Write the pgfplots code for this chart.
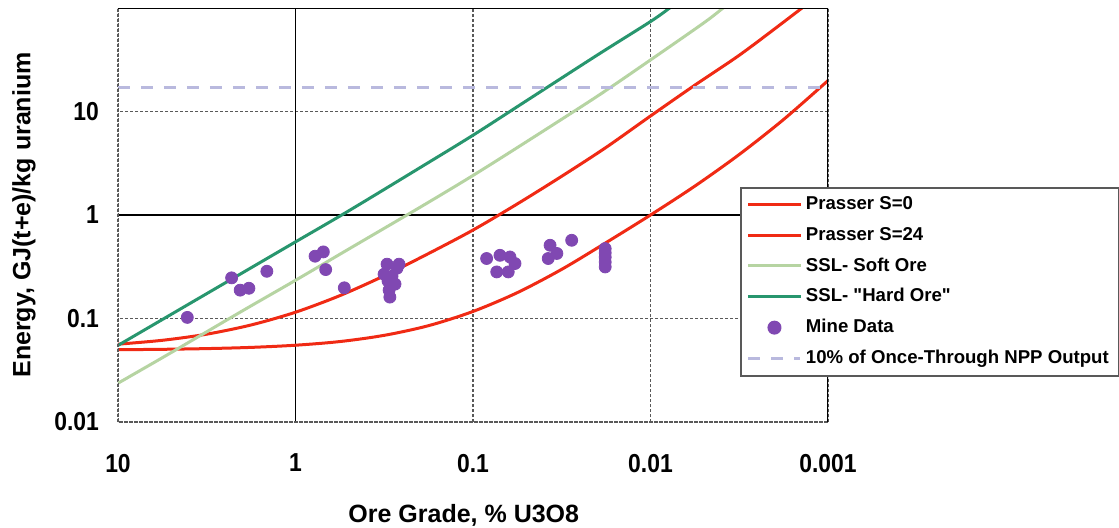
\documentclass[border=0pt]{standalone}
\usepackage{fontspec}
\setmainfont{Liberation Sans}
\newfontfamily\tickfont[FakeStretch=0.88]{Liberation Sans}
\newfontfamily\legfont{Liberation Sans}
\usepackage{pgfplots}
\pgfplotsset{compat=1.18}
\definecolor{cred}{RGB}{240,42,20}
\definecolor{cdgreen}{RGB}{40,150,110}
\definecolor{clgreen}{RGB}{182,212,162}
\definecolor{cpurple}{RGB}{128,72,178}
\definecolor{cdash}{RGB}{185,185,222}
\begin{document}
\begin{tikzpicture}
\useasboundingbox (-59pt,-52.5pt) rectangle (500.5pt,211pt);
\begin{axis}[
 scale only axis, width=355pt, height=207pt,
 xmode=log, ymode=log, x dir=reverse,
 xmin=0.001, xmax=10, ymin=0.01, ymax=100,
 xtick={0.001,0.01,0.1,1,10}, xticklabels={0.001,0.01,0.1,1,10},
 ytick={0.01,0.1,1,10}, yticklabels={0.01,0.1,1,10},
 xminorticks=false, yminorticks=false,
 major tick length=0pt,
 grid=major,
 major grid style={black!65, line width=0.8pt, dash pattern=on 1.5pt off 1pt},
 axis line style={draw=none},
 extra x ticks={1}, extra x tick labels={},
 extra x tick style={major grid style={draw=black, solid, line width=0.8pt}},
 extra y ticks={1}, extra y tick labels={},
 extra y tick style={major grid style={draw=black, solid, line width=0.8pt}},
 ticklabel style={font=\tickfont\bfseries\fontsize{13}{15}\selectfont},
 yticklabel style={anchor=east, xshift=-6pt},
 xticklabel style={anchor=north, yshift=-12.5pt},
 xlabel={Ore Grade, \% U3O8},
 ylabel={Energy, GJ(t+e)/kg uranium},
 label style={font=\bfseries\fontsize{12.5}{14}\selectfont},
 xlabel style={at={(axis description cs:0.487,-0.225)}, anchor=center},
 ylabel style={at={(axis description cs:-0.1324,0.5)}, anchor=center},
 legend style={at={(rel axis cs:0.876,0.568)}, anchor=north west, draw=black!65, line width=1pt, fill=white, font=\legfont\bfseries\fontsize{9.3}{11}\selectfont, row sep=3.2pt, inner xsep=3pt, inner ysep=2.5pt, nodes={inner xsep=2pt}, cells={anchor=west}},
 legend image code/.code={\draw[mark repeat=2,mark phase=2,#1] plot coordinates {(0pt,0pt) (13pt,0pt) (26pt,0pt)};},
]
\addplot[cred, line width=1.5pt, smooth] coordinates {
(10,0.04995) (5.62,0.0504) (3.16,0.0512) (1.78,0.0526) (1,0.0552) (0.562,0.0599) (0.316,0.0688) (0.178,0.0853) (0.1,0.117) (0.0562,0.178) (0.0316,0.299) (0.0178,0.541) (0.01,1.0) (0.00562,1.905) (0.00316,3.85) (0.00178,8.37) (0.001,19.9)};
\addlegendentry{Prasser S=0}
\addplot[cred, line width=1.5pt, smooth] coordinates {
(10,0.0565) (5.62,0.0616) (3.16,0.0706) (1.78,0.0866) (1,0.115) (0.562,0.1665) (0.316,0.259) (0.178,0.4245) (0.1,0.7155) (0.0562,1.282) (0.0316,2.371) (0.0178,4.50) (0.01,9.05) (0.00562,18.0) (0.00316,35.0) (0.00178,73.1) (0.001,156)};
\addlegendentry{Prasser S=24}
\addplot[clgreen, line width=1.5pt, smooth] coordinates {
(10,0.0237) (5,0.047) (2,0.118) (1,0.234) (0.5,0.47) (0.2,1.18) (0.1,2.41) (0.05,5.1) (0.02,14) (0.01,31.5) (0.005,72) (0.0039,100) (0.0035,115)};
\addlegendentry{SSL- Soft Ore}
\addplot[cdgreen, line width=1.5pt, smooth] coordinates {
(10,0.055) (5,0.11) (2,0.275) (1,0.55) (0.5,1.1) (0.2,2.85) (0.1,5.9) (0.05,12.7) (0.02,35) (0.01,74) (0.0078,100) (0.007,115)};
\addlegendentry{SSL- "Hard Ore"}
\addplot[only marks, mark=*, mark size=3pt, mark options={fill=cpurple, draw=cpurple}] coordinates {
(4.07,0.1025) (2.29,0.247) (2.05,0.188) (1.83,0.196) (1.45,0.286)
(0.776,0.40) (0.697,0.44) (0.676,0.297) (0.531,0.198)
(0.305,0.335) (0.268,0.306) (0.317,0.268) (0.286,0.256) (0.301,0.23) (0.275,0.215) (0.297,0.188) (0.294,0.161) (0.261,0.335)
(0.0838,0.38) (0.0705,0.408) (0.0619,0.393) (0.058,0.34) (0.0735,0.282) (0.0633,0.282)
(0.0368,0.51) (0.0337,0.425) (0.0377,0.38) (0.0278,0.57)
(0.018,0.474) (0.018,0.43) (0.018,0.391) (0.018,0.35) (0.018,0.315)};
\addlegendentry{Mine Data}
\addplot[cdash, line width=1.5pt, dash pattern=on 6pt off 5.5pt] coordinates {(10,17) (0.001,17)};
\addlegendentry{10\% of Once-Through NPP Output}
\draw[black!65, line width=0.8pt, dash pattern=on 1.5pt off 1pt] (rel axis cs:0,1) -- (rel axis cs:0,0) -- (rel axis cs:1,0);
\draw[black, line width=0.8pt] (rel axis cs:0,1) -- (rel axis cs:1,1) -- (rel axis cs:1,0);
\end{axis}
\end{tikzpicture}
\end{document}
